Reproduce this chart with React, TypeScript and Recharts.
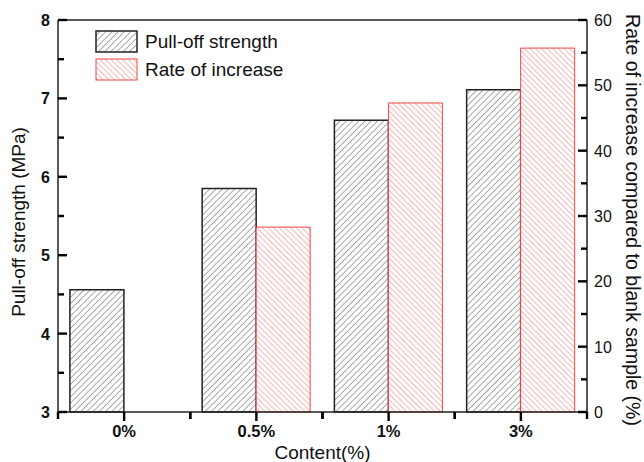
import { BarChart, Bar, XAxis, YAxis, ReferenceLine, Customized } from "recharts";

const FONT = "'Liberation Sans', Arial, sans-serif";

// values
const categories = ["0%", "0.5%", "1%", "3%"];
const pullOffStrength = [4.56, 5.85, 6.72, 7.11];
const rateOfIncrease = [null, 28.3, 47.3, 55.7];
const leftTicks = [3, 3.5, 4, 4.5, 5, 5.5, 6, 6.5, 7, 7.5, 8];
const rightTicks = [0, 5, 10, 15, 20, 25, 30, 35, 40, 45, 50, 55, 60];

const series = [
  { key: "pullOff", name: "Pull-off strength", stroke: "#222", fill: "url(#hatchBlack)" },
  { key: "rate", name: "Rate of increase", stroke: "#f04545", fill: "url(#hatchRed)" },
];

const data = categories.map((c, i) => ({
  content: c,
  pullOff: pullOffStrength[i],
  rate: rateOfIncrease[i],
}));

function LeftTick(props: any) {
  const { x, y, payload } = props;
  const major = payload.value % 1 === 0;
  return (
    <g>
      <rect x={x} y={y - 1.2} width={major ? 9 : 6} height={2.4} fill="#000" />
      {major && (
        <text x={x - 8} y={y + 6} textAnchor="end" fontSize={16} fontWeight="bold" fill="#111" fontFamily={FONT}>
          {payload.value}
        </text>
      )}
    </g>
  );
}

function RightTick(props: any) {
  const { x, y, payload } = props;
  const major = payload.value % 10 === 0;
  const len = major ? 9 : 6;
  return (
    <g>
      <rect x={x - len} y={y - 1.2} width={len} height={2.4} fill="#000" />
      {major && (
        <text x={x + 7} y={y + 6} textAnchor="start" fontSize={16} fill="#111" fontFamily={FONT}>
          {payload.value}
        </text>
      )}
    </g>
  );
}

function XTick(props: any) {
  const { x, y, payload } = props;
  const half = Number(payload.offset) || 0;
  return (
    <g>
      <rect x={x - 1.2} y={y} width={2.4} height={9} fill="#000" />
      <rect x={x - half - 1.2} y={y} width={2.4} height={7} fill="#000" />
      <rect x={x + half - 1.2} y={y} width={2.4} height={7} fill="#000" />
      <text x={x} y={y + 25} textAnchor="middle" fontSize={16.5} fontWeight="bold" fill="#111" fontFamily={FONT}>
        {payload.value}
      </text>
    </g>
  );
}

function LegendBox() {
  return (
    <g fontFamily={FONT}>
      {series.map((s, i) => (
        <g key={s.key}>
          <rect x={96} y={31 + i * 28} width={41} height={21} fill={s.fill} stroke={s.stroke} strokeWidth={i === 0 ? 1.5 : 1} />
          <text x={145} y={48 + i * 28} fontSize={19} fill="#111">
            {s.name}
          </text>
        </g>
      ))}
    </g>
  );
}

export default function App() {
  return (
    <div style={{ position: "absolute", left: 0, top: 0, background: "#fff" }}>
      <BarChart
        width={644}
        height={462}
        data={data}
        margin={{ top: 20, right: 0, left: 0, bottom: 0 }}
        barCategoryGap="9%"
        barGap={0}
      >
        <defs>
          <pattern id="hatchBlack" patternUnits="userSpaceOnUse" width={4.4} height={4.4} patternTransform="rotate(45)">
            <rect width={4.4} height={4.4} fill="#fff" />
            <line x1={0} y1={0} x2={0} y2={4.4} stroke="#555" strokeWidth={1} />
          </pattern>
          <pattern id="hatchRed" patternUnits="userSpaceOnUse" width={4} height={4} patternTransform="rotate(-45)">
            <rect width={4} height={4} fill="#fff" />
            <line x1={0} y1={0} x2={0} y2={4} stroke="#f06060" strokeWidth={0.9} />
          </pattern>
        </defs>
        <XAxis
          dataKey="content"
          height={50}
          tickSize={0}
          tickMargin={0}
          tickLine={false}
          tick={<XTick />}
          axisLine={{ stroke: "#222", strokeWidth: 1.5 }}
          label={({ viewBox }: any) => (
            <text x={viewBox.x + viewBox.width / 2} y={viewBox.y + 47} textAnchor="middle" fontSize={19} fill="#111" fontFamily={FONT}>
              Content(%)
            </text>
          )}
        />
        <YAxis
          yAxisId="left"
          domain={[3, 8]}
          ticks={leftTicks}
          interval={0}
          width={58}
          tickSize={0}
          tickMargin={0}
          tickLine={false}
          tick={<LeftTick />}
          axisLine={{ stroke: "#222", strokeWidth: 1.5 }}
          label={({ viewBox }: any) => {
            const cx = viewBox.x + 18;
            const cy = viewBox.y + viewBox.height / 2 + 6;
            return (
              <text x={cx} y={cy} transform={`rotate(-90 ${cx} ${cy})`} textAnchor="middle" dominantBaseline="central" fontSize={19} fill="#111" fontFamily={FONT}>
                Pull-off strength (MPa)
              </text>
            );
          }}
        />
        <YAxis
          yAxisId="right"
          orientation="right"
          domain={[0, 60]}
          ticks={rightTicks}
          interval={0}
          width={57}
          tickSize={0}
          tickMargin={0}
          tickLine={false}
          tick={<RightTick />}
          axisLine={{ stroke: "#222", strokeWidth: 1.5 }}
          label={({ viewBox }: any) => {
            const cx = viewBox.x + 46;
            const cy = viewBox.y + viewBox.height / 2 + 4;
            return (
              <text x={cx} y={cy} transform={`rotate(90 ${cx} ${cy})`} textAnchor="middle" dominantBaseline="central" fontSize={19.5} fill="#111" fontFamily={FONT}>
                Rate of increase compared to blank sample (%)
              </text>
            );
          }}
        />
        <ReferenceLine yAxisId="left" y={8} stroke="#222" strokeWidth={1.5} />
        <Bar yAxisId="left" dataKey="pullOff" name={series[0].name} fill={series[0].fill} stroke={series[0].stroke} strokeWidth={1.5} isAnimationActive={false} />
        <Bar yAxisId="right" dataKey="rate" name={series[1].name} fill={series[1].fill} stroke={series[1].stroke} strokeWidth={1} isAnimationActive={false} />
        <Customized component={LegendBox} />
      </BarChart>
    </div>
  );
}
